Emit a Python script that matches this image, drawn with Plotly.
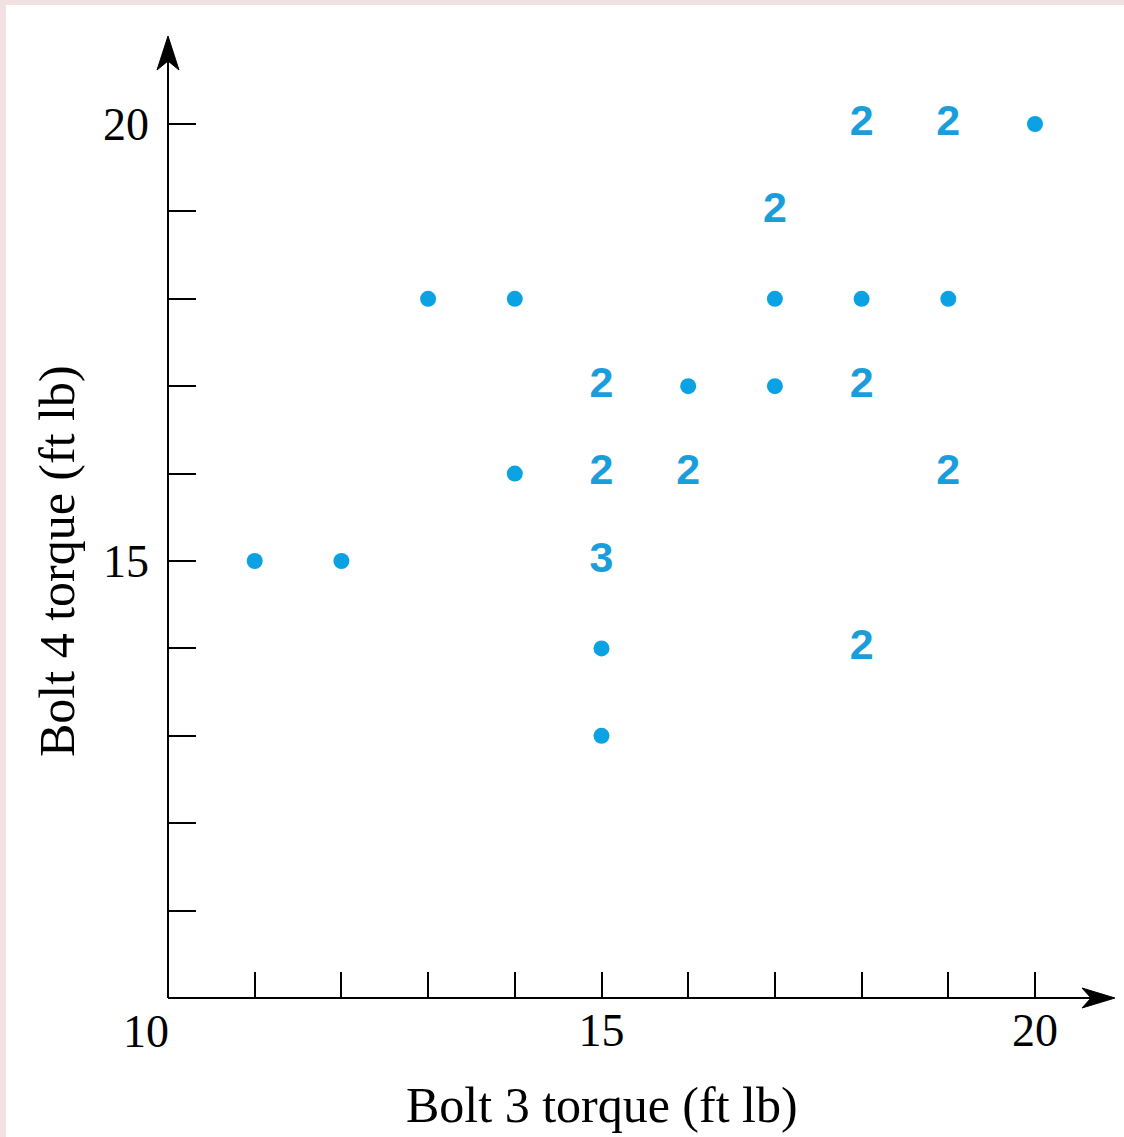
import plotly.graph_objects as go

# Data: bolt 3 torque (x), bolt 4 torque (y), number of coincident observations
bolt3 = [18, 19, 20, 17, 13, 14, 17, 18, 19, 15, 16, 17, 18, 14, 15, 16, 19, 11, 12, 15, 15, 18, 15]
bolt4 = [20, 20, 20, 19, 18, 18, 18, 18, 18, 17, 17, 17, 17, 16, 16, 16, 16, 15, 15, 15, 14, 14, 13]
counts = [2, 2, 1, 2, 1, 1, 1, 1, 1, 2, 1, 1, 2, 1, 2, 2, 2, 1, 1, 3, 1, 2, 1]

tick_vals = [11, 12, 13, 14, 15, 16, 17, 18, 19, 20]
x_tick_text = ["", "", "", "", "15", "", "", "", "", "20"]
y_tick_text = ["", "", "", "", "15", "", "", "", "", "20"]
origin_label = "10"
x_title = "Bolt 3 torque (ft lb)"
y_title = "Bolt 4 torque (ft lb)"

BLUE = "#0ba2e3"
PINK = "#f3e0e3"
SERIF = "Liberation Serif, Times New Roman, serif"

single_x = [x for x, c in zip(bolt3, counts) if c == 1]
single_y = [y for y, c in zip(bolt4, counts) if c == 1]
multi_x = [x for x, c in zip(bolt3, counts) if c > 1]
multi_y = [y for y, c in zip(bolt4, counts) if c > 1]
multi_t = [str(c) for c in counts if c > 1]

fig = go.Figure()
fig.add_trace(go.Scatter(
    x=single_x, y=single_y, mode="markers",
    marker=dict(size=16, color=BLUE, line=dict(width=0)),
    hoverinfo="skip", showlegend=False,
))
fig.add_trace(go.Scatter(
    x=multi_x, y=multi_y, mode="text", text=multi_t,
    textposition="middle center",
    textfont=dict(family="Liberation Sans, Arial, sans-serif", size=43, color="#1a9edb", weight="bold"),
    hoverinfo="skip", showlegend=False,
))

W, H = 1124, 1137
ml, mr, mt, mb = 168, 6, 30, 139
xscale = 86.7
yscale = 87.4
xmax = 10 + (W - ml - mr) / xscale
ymax = 10 + (H - mt - mb) / yscale

fig.update_xaxes(
    range=[10, xmax], showgrid=False, zeroline=False, showline=False,
    tickvals=tick_vals, ticktext=x_tick_text,
    ticks="inside", ticklen=26, tickwidth=2, tickcolor="black",
    tickfont=dict(family=SERIF, size=46, color="black"),
    ticklabelstandoff=1,
)
fig.update_yaxes(
    range=[10, ymax], showgrid=False, zeroline=False, showline=False,
    tickvals=tick_vals, ticktext=y_tick_text,
    ticks="inside", ticklen=28, tickwidth=2, tickcolor="black",
    tickfont=dict(family=SERIF, size=46, color="black"),
    ticklabelstandoff=18,
)

# arrow tips, in paper fractions derived from the axis scales
x_tip = (1115 - ml) / (W - ml - mr)
y_tip = (998 - 36) / (H - mt - mb)

annotations = [
    dict(x=10, y=10, xref="x", yref="y", text=origin_label, showarrow=False,
         xshift=-22, yshift=-33, font=dict(family=SERIF, size=46, color="black")),
    dict(x=15, y=10, xref="x", yref="y", text=x_title, showarrow=False,
         yshift=-107, font=dict(family=SERIF, size=50, color="black")),
    dict(x=10, y=15, xref="x", yref="y", text=y_title, showarrow=False, textangle=-90,
         xshift=-111, font=dict(family=SERIF, size=50, color="black")),
]

shapes = [
    dict(type="rect", xref="paper", yref="paper", layer="below",
         x0=-(ml - 6) / (W - ml - mr), x1=1 + mr / (W - ml - mr),
         y0=-mb / (H - mt - mb), y1=1 + (mt - 5) / (H - mt - mb),
         fillcolor="white", line=dict(width=0)),
    # axis lines
    dict(type="line", xref="paper", yref="paper", x0=0, y0=0, x1=x_tip - 0.02, y1=0,
         line=dict(color="black", width=2)),
    dict(type="line", xref="paper", yref="paper", x0=0, y0=0, x1=0, y1=y_tip - 0.02,
         line=dict(color="black", width=2)),
    # stealth arrowheads
    dict(type="path", xref="paper", yref="paper", xsizemode="pixel", ysizemode="pixel",
         xanchor=x_tip, yanchor=0,
         path="M 0 0 L -33 10 L -24 0 L -33 -10 Z",
         fillcolor="black", line=dict(color="black", width=1)),
    dict(type="path", xref="paper", yref="paper", xsizemode="pixel", ysizemode="pixel",
         xanchor=0, yanchor=y_tip,
         path="M 0 0 L -11 -34 L 0 -25 L 11 -34 Z",
         fillcolor="black", line=dict(color="black", width=1)),
]

fig.update_layout(
    width=W, height=H,
    margin=dict(l=ml, r=mr, t=mt, b=mb),
    paper_bgcolor=PINK,
    plot_bgcolor="rgba(0,0,0,0)",
    annotations=annotations,
    shapes=shapes,
)

fig.write_html(
    "out.html",
    config={"displayModeBar": False},
    post_script="document.body.style.margin='0';document.body.style.overflow='hidden';",
)
